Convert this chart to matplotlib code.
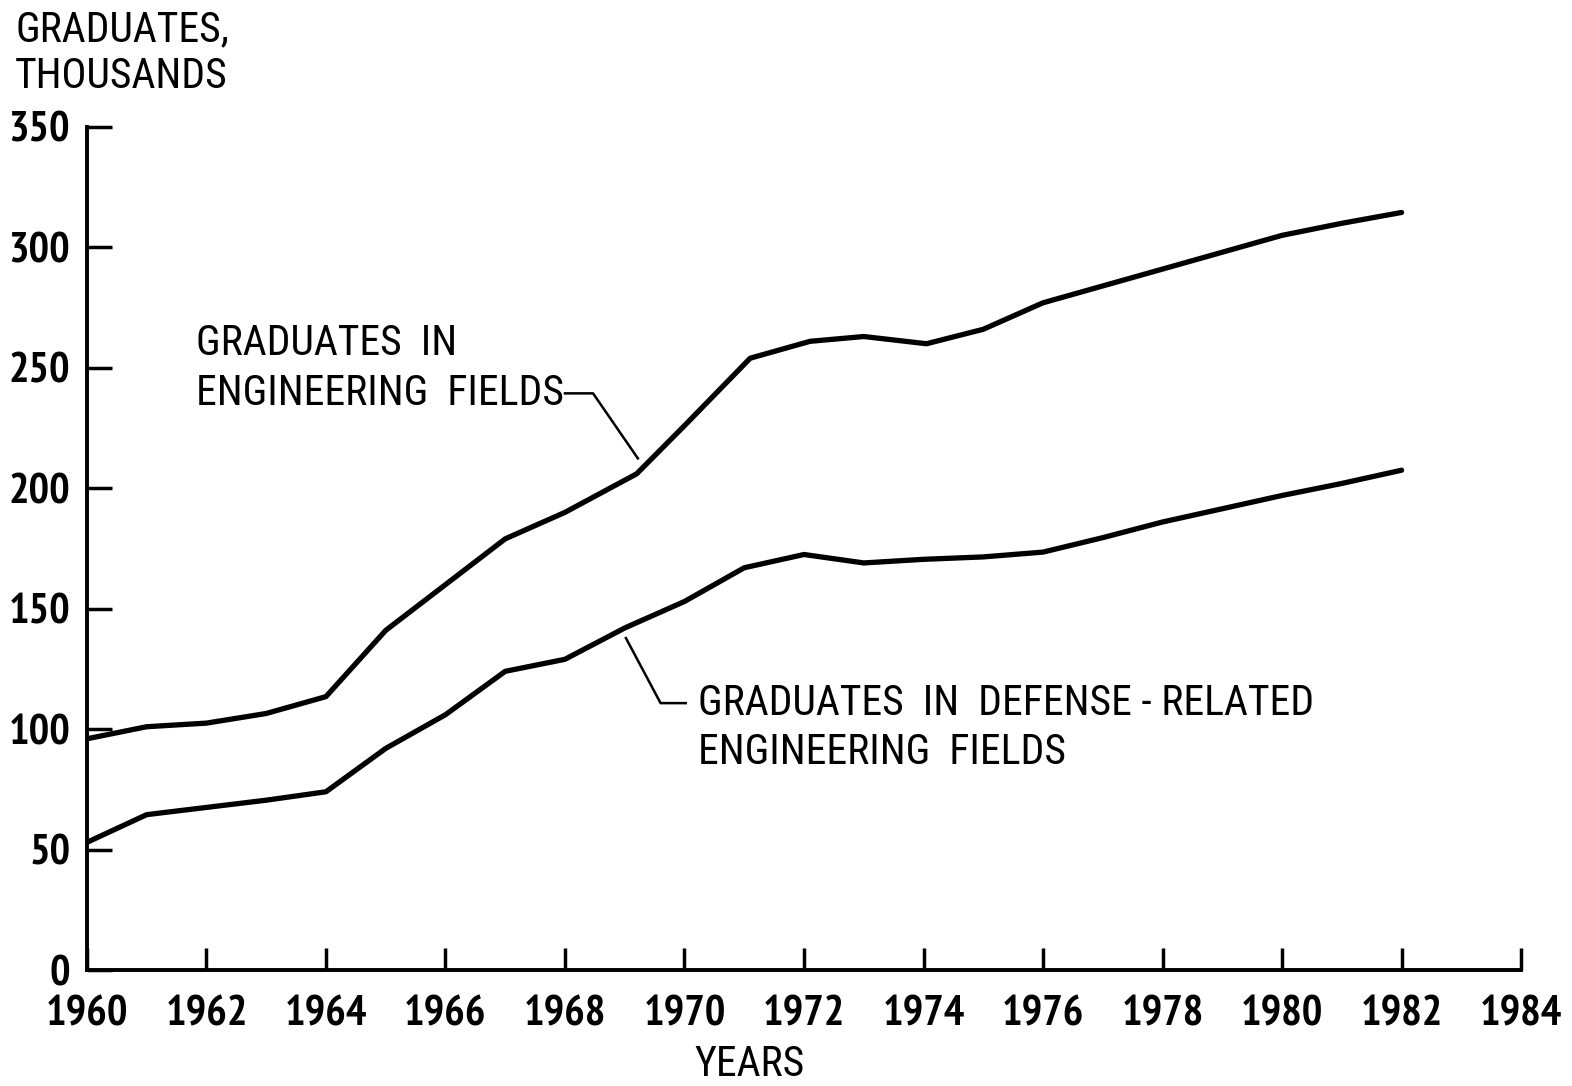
import matplotlib.pyplot as plt

plt.rcParams["font.family"] = ["Roboto Condensed", "PT Sans Narrow", "DejaVu Sans"]

years_eng = [1960, 1961, 1962, 1963, 1964, 1965, 1966, 1967, 1968, 1969.2, 1970, 1971.1,
             1972.1, 1973, 1974.05, 1975, 1976, 1977, 1978, 1979, 1980, 1981, 1982]
eng = [96, 101, 102.5, 106.5, 113.5, 141, 160, 179, 190, 206, 226, 254,
       261, 263, 260, 266, 277, 284, 291, 298, 305, 310, 314.5]

years_def = [1960, 1961, 1962, 1963, 1964, 1965, 1966, 1967, 1968, 1969, 1970, 1971,
             1972, 1973, 1974, 1975, 1976, 1977, 1978, 1979, 1980, 1981, 1982]
defense = [53, 64.5, 67.5, 70.5, 74, 92, 106, 124, 129, 142, 153, 167,
           172.5, 169, 170.5, 171.5, 173.5, 179.5, 186, 191.5, 197, 202, 207.5]

xticks = list(range(1960, 1985, 2))
yticks = list(range(0, 351, 50))

fig = plt.figure(figsize=(15.72, 10.86), dpi=100)
ax = fig.add_axes([0.0553, 0.1068, 0.9123, 0.7763])

ax.plot(years_eng, eng, color='black', lw=3.8, solid_joinstyle='round', solid_capstyle='round')
ax.plot(years_def, defense, color='black', lw=3.8, solid_joinstyle='round', solid_capstyle='round')

# leader lines for the two labels
ax.plot([1968.0, 1968.47, 1969.22], [239.4, 239.4, 212.4], color='black', lw=1.8)
ax.plot([1969.02, 1969.6, 1970.02], [137.8, 110.8, 110.8], color='black', lw=1.8)

fs = 30
lab = dict(fontsize=fs, va='center', ha='left')
ax.text(1961.83, 260.2, "GRADUATES  IN", **lab)
ax.text(1961.83, 239.4, "ENGINEERING  FIELDS", **lab)
ax.text(1970.22, 110.8, "GRADUATES  IN  DEFENSE - RELATED", **lab)
ax.text(1970.22, 90.5, "ENGINEERING  FIELDS", **lab)

ax.set_xlim(1960, 1984)
ax.set_ylim(0, 350)
ax.set_xticks(xticks)
ax.set_yticks(yticks)
ax.tick_params(axis='both', direction='in', width=2.5)
ax.tick_params(axis='y', length=18, pad=12)
ax.tick_params(axis='x', length=16, pad=18)
for t in ax.get_xticklabels() + ax.get_yticklabels():
    t.set_fontfamily(["PT Sans Narrow", "DejaVu Sans"])
    t.set_fontweight('bold')
    t.set_fontsize(31)
for s in ['top', 'right']:
    ax.spines[s].set_visible(False)
for s in ['left', 'bottom']:
    ax.spines[s].set_linewidth(2.8)

fig.text(15 / 1572, 1 - 30 / 1086, "GRADUATES,", fontsize=fs, va='center', ha='left')
fig.text(15 / 1572, 1 - 77 / 1086, "THOUSANDS", fontsize=fs, va='center', ha='left')
fig.text(750 / 1572, 1 - 1065 / 1086, "YEARS", fontsize=fs, va='center', ha='center')

fig.savefig('out.png', dpi=100)
